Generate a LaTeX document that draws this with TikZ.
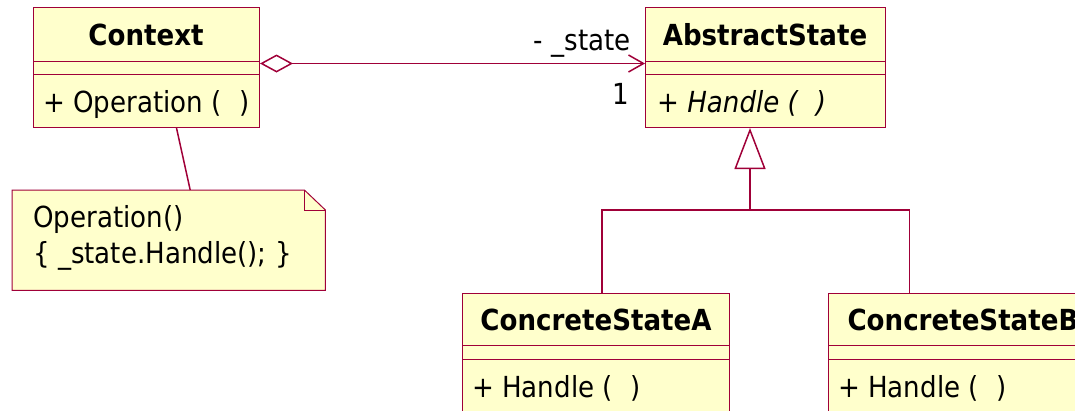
\documentclass[tikz,border=0pt]{standalone}
\usepackage{fontspec}
\setmainfont{DejaVu Sans}[FakeStretch=0.9]
\usetikzlibrary{arrows.meta,calc}
\definecolor{umlline}{RGB}{160,0,56}
\definecolor{umlfill}{RGB}{255,255,204}
% empty parameter list with the wide gap between the parentheses
\newcommand\emptyargs{(\hspace{18pt})}

\begin{document}
\begin{tikzpicture}[x=1pt,y=-1pt,
  classbox/.style={draw=umlline, fill=umlfill, line width=1pt, rectangle,
                   anchor=north west, inner sep=0pt},
  sep/.style={draw=umlline, line width=1pt},
  notebox/.style={draw=umlline, fill=umlfill, line width=1pt, line join=miter},
  link/.style={draw=umlline, line width=1.5pt},
  txt/.style={font=\fontsize{29}{36}\selectfont, inner sep=0pt, text=black},
  title/.style={font=\fontsize{29}{36}\selectfont\bfseries, inner sep=0pt,
                text=black, anchor=base},
  member/.style={txt, anchor=base west},
]
\clip (0,0) rectangle (1075,410);

% class boxes
\node[classbox, minimum width=226pt, minimum height=120pt] (ctx) at (33,7) {};
\node[classbox, minimum width=240pt, minimum height=120pt] (abs) at (645,7) {};
\node[classbox, minimum width=267pt, minimum height=140pt] (csa) at (462,293) {};
\node[classbox, minimum width=270pt, minimum height=140pt] (csb) at (828,293) {};

% compartment separators
\foreach \b/\d in {ctx/54, ctx/67, abs/54, abs/67, csa/52, csa/66, csb/52, csb/66}
  \draw[sep] ([yshift=-\d pt]\b.north west) -- ([yshift=-\d pt]\b.north east);

% class names and operations
\node[title] (ctxname) at (146,45) {Context};
\node[member] (ctxop) at (43,112) {+ Operation \emptyargs};
\node[title] (absname) at (765,45) {AbstractState};
\node[member, font=\fontsize{29}{36}\selectfont\itshape] (absop) at (657,112) {+ Handle \emptyargs};
\node[title] (csaname) at (596,330) {ConcreteStateA};
\node[member] (csaop) at (472,397) {+ Handle \emptyargs};
\node[title] (csbname) at (963,330) {ConcreteStateB};
\node[member] (csbop) at (838,397) {+ Handle \emptyargs};

% note attached to Context
\node[anchor=north west, minimum width=313pt, minimum height=100pt, inner sep=0pt] (note) at (12,190) {};
\draw[notebox] (note.north west) -- ([xshift=-21pt]note.north east)
  -- ([yshift=-20pt]note.north east) -- (note.south east) -- (note.south west) -- cycle;
\draw[sep] ([xshift=-21pt]note.north east) |- ([yshift=-20pt]note.north east);
\node[txt, anchor=base west, align=left] (notetext) at (33,263)
  {Operation()\\\{ \_state.Handle(); \}};
\draw[link] ([xshift=30pt]ctx.south) -- ([xshift=21.5pt]note.north);

% aggregation Context -> AbstractState
\draw[link, {Diamond[open, length=33pt, width=18pt]}-{Straight Barb[length=15pt, width=17pt]}]
  ([yshift=4pt]ctx.east) -- ([yshift=4pt]abs.west);
\node[txt, anchor=base east] (rolename) at (631,50) {- \_state};
\node[txt, anchor=base east] (mult) at (629,104) {1};

% generalization of the concrete states
\coordinate (fork) at (750,210);
\draw[link, -{Triangle[open, length=41pt, width=31pt]}] (fork) -- (fork |- abs.south);
\draw[link] ([xshift=6pt]csa.north) |- (fork) -| ([xshift=-54pt]csb.north);
\end{tikzpicture}
\end{document}
